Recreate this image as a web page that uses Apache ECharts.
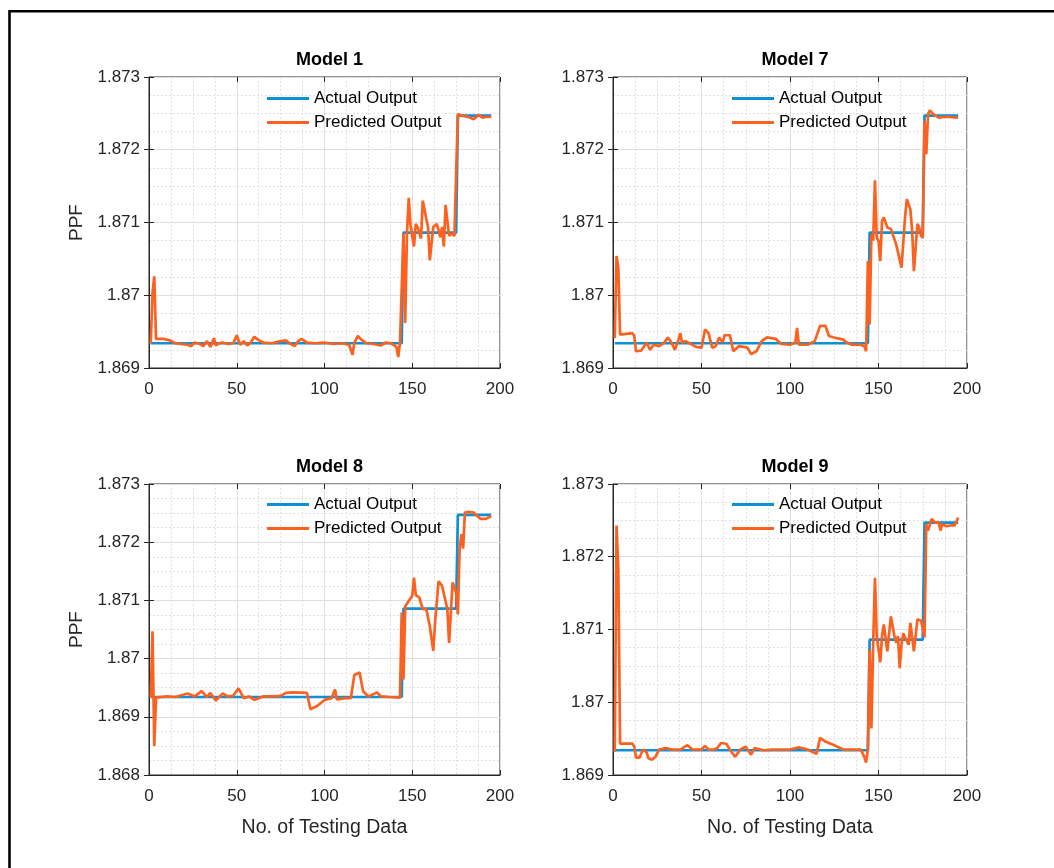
<!DOCTYPE html>
<html>
<head>
<meta charset="utf-8">
<script src="https://cdn.jsdelivr.net/npm/echarts@6/dist/echarts.min.js"></script>
<style>
html,body{margin:0;padding:0;background:#fff;}
#chart{width:1054px;height:868px;}
</style>
</head>
<body>
<div id="chart"></div>
<script>
// ---- data ----
const panelTitles = ['Model 1', 'Model 7', 'Model 8', 'Model 9'];
const seriesNames = ['Actual Output', 'Predicted Output'];
const xTicks = [0, 50, 100, 150, 200];
const yRanges = [[1.869, 1.873], [1.869, 1.873], [1.868, 1.873], [1.869, 1.873]];

const actual = [[1,1.86934],[144,1.86934],[145,1.87086],[175,1.87086],[176,1.87247],[195,1.87247]];

const model1 = [[1,1.86934],[2,1.87003],[3,1.87026],[4,1.8694],[8,1.8694],[12,1.86938],[15,1.86934],[18,1.86933],[22,1.86932],[24,1.8693],[26,1.86935],[29,1.86933],[31,1.8693],[33,1.86937],[35,1.86929],[37,1.86941],[38,1.86931],[40,1.86934],[42,1.86935],[45,1.86933],[48,1.86934],[50,1.86945],[52,1.86932],[54,1.86937],[56,1.86931],[58,1.86935],[60,1.86943],[62,1.86939],[65,1.86935],[70,1.86934],[75,1.86937],[78,1.86938],[80,1.86934],[83,1.8693],[85,1.86937],[87,1.8694],[90,1.86935],[95,1.86934],[100,1.86935],[105,1.86933],[110,1.86934],[114,1.86932],[116,1.86918],[117,1.86935],[119,1.86944],[121,1.86939],[124,1.86934],[128,1.86933],[132,1.86931],[135,1.86935],[138,1.86934],[141,1.86929],[142,1.86915],[143,1.86934],[144,1.86934],[145,1.87085],[146,1.86962],[147,1.87085],[148,1.87134],[149,1.87096],[151,1.87067],[152,1.87098],[153,1.87094],[155,1.87078],[156,1.8713],[158,1.87105],[159,1.87094],[160,1.87048],[162,1.87094],[163,1.87092],[164,1.87098],[166,1.8708],[167,1.87094],[168,1.87067],[169,1.87124],[171,1.87082],[173,1.87085],[174,1.87081],[175,1.87083],[176,1.87249],[177,1.87249],[178,1.87247],[182,1.87245],[185,1.87242],[188,1.87248],[190,1.87244],[192,1.87245],[195,1.87245]];

const model7 = [[1,1.86941],[2,1.87054],[3,1.87038],[4,1.86946],[5,1.86948],[11,1.86948],[12,1.86944],[13,1.86923],[16,1.86924],[19,1.86935],[20,1.86935],[21,1.86925],[23,1.86932],[26,1.8693],[29,1.86935],[31,1.86942],[33,1.86935],[35,1.86925],[37,1.86939],[38,1.86948],[39,1.86935],[41,1.86937],[44,1.86933],[47,1.86929],[50,1.86928],[52,1.86953],[54,1.86948],[56,1.86928],[58,1.8693],[60,1.86942],[62,1.86935],[63,1.86945],[66,1.86945],[68,1.86923],[71,1.8693],[76,1.86928],[78,1.86919],[81,1.86923],[84,1.86937],[87,1.86942],[92,1.8694],[95,1.86933],[100,1.86932],[103,1.86935],[104,1.86955],[105,1.86932],[110,1.86932],[114,1.86937],[117,1.86958],[120,1.86958],[122,1.86944],[125,1.86942],[130,1.86939],[132,1.86935],[135,1.86932],[140,1.86932],[142,1.8693],[143,1.86923],[144,1.87047],[145,1.8696],[146,1.87084],[147,1.87075],[148,1.87158],[149,1.87079],[150,1.87075],[151,1.87047],[152,1.87102],[153,1.87107],[155,1.87093],[157,1.87091],[158,1.87093],[160,1.8707],[163,1.87038],[165,1.87107],[166,1.87132],[168,1.87118],[169,1.87089],[170,1.87033],[172,1.87098],[173,1.87093],[174,1.87082],[175,1.87079],[176,1.8724],[177,1.87194],[178,1.87249],[179,1.87254],[181,1.87249],[184,1.87244],[187,1.87245],[190,1.87245],[195,1.87244]];

const model8 = [[1,1.86933],[2,1.87047],[3,1.8685],[4,1.86933],[10,1.86935],[15,1.86934],[22,1.8694],[26,1.86935],[30,1.86944],[33,1.86934],[35,1.86941],[38,1.86928],[42,1.8694],[45,1.86935],[48,1.86936],[51,1.86949],[54,1.86932],[57,1.86935],[60,1.86929],[65,1.86935],[70,1.86935],[75,1.86936],[78,1.86941],[82,1.86942],[90,1.86941],[92,1.86913],[96,1.86919],[100,1.86929],[104,1.86932],[106,1.86947],[107,1.8693],[112,1.86932],[115,1.86932],[117,1.86972],[120,1.86976],[122,1.86944],[125,1.86935],[130,1.86942],[132,1.86935],[137,1.86934],[143,1.86933],[144,1.87079],[145,1.86964],[146,1.8709],[148,1.87099],[150,1.87108],[151,1.87139],[152,1.87109],[154,1.87105],[156,1.87085],[158,1.87085],[160,1.87056],[162,1.87013],[163,1.87062],[165,1.87133],[167,1.87125],[168,1.87125],[170,1.87085],[171,1.87027],[173,1.87131],[175,1.87113],[176,1.87076],[177,1.87188],[178,1.87214],[179,1.87189],[180,1.87251],[182,1.87252],[185,1.87251],[187,1.87245],[189,1.8724],[192,1.8724],[195,1.87245]];

const model9 = [[1,1.86932],[2,1.87243],[3,1.87183],[4,1.86943],[11,1.86943],[12,1.86939],[13,1.86924],[15,1.86924],[17,1.86935],[19,1.86931],[20,1.86923],[22,1.86921],[24,1.86925],[26,1.86935],[30,1.86937],[33,1.86935],[38,1.86935],[42,1.86941],[45,1.86935],[50,1.86935],[52,1.8694],[54,1.86935],[57,1.86935],[59,1.86937],[61,1.86944],[64,1.86943],[66,1.86935],[69,1.86925],[72,1.86935],[75,1.86939],[78,1.86928],[80,1.86937],[85,1.86934],[90,1.86935],[95,1.86935],[100,1.86935],[105,1.86938],[110,1.86935],[115,1.86929],[117,1.86951],[120,1.86946],[125,1.86941],[130,1.86935],[135,1.86935],[140,1.86935],[142,1.86925],[143,1.86917],[144,1.86935],[145,1.87072],[146,1.86964],[147,1.87082],[148,1.87171],[149,1.87091],[151,1.87055],[152,1.87091],[153,1.87107],[155,1.8707],[156,1.8707],[157,1.87118],[159,1.87091],[160,1.87082],[161,1.87091],[162,1.87047],[163,1.87079],[164,1.87095],[165,1.87089],[167,1.87079],[168,1.87109],[170,1.8707],[172,1.87114],[174,1.87112],[175,1.87102],[176,1.87089],[177,1.87245],[178,1.87236],[180,1.87252],[182,1.87247],[184,1.87247],[185,1.87236],[186,1.87245],[188,1.87242],[191,1.87243],[193,1.87243],[194,1.87248],[195,1.87254]];

const predicted = [model1, model7, model8, model9];

// ---- layout ----
const FONT = '"Liberation Sans", Arial, sans-serif';
const TXT = '#262626';
const BLUE = '#0f8fd6';
const ORANGE = '#fb6220';
const grids = [
  {left:149, top:77, width:351, height:291},
  {left:613, top:77, width:354, height:291},
  {left:149, top:484, width:351, height:291},
  {left:613, top:484, width:354, height:291}
];
const legendPos = [[267, 90], [732, 90], [267, 496], [732, 496]];

function fmtY(v){ return String(parseFloat(v.toFixed(4))); }

const option = {
  backgroundColor: '#fff',
  animation: false,
  title: [], grid: [], xAxis: [], yAxis: [], series: [], legend: [],
  graphic: [{
    type: 'rect', shape: {x: 9.5, y: 11.3, width: 1100, height: 900},
    style: {fill: 'none', stroke: '#000', lineWidth: 2.6}, silent: true, z: -1
  }]
};

grids.forEach((g, i) => {
  const cx = g.left + g.width / 2;
  option.grid.push(Object.assign({show: true, borderColor: TXT, borderWidth: 1, backgroundColor: '#fff', containLabel: false}, g));
  option.title.push({
    text: panelTitles[i], left: cx, top: g.top - 31, textAlign: 'center',
    textStyle: {fontFamily: FONT, fontSize: 18, fontWeight: 'bold', color: '#000'}
  });
  const bottomRow = i >= 2, leftCol = (i % 2) === 0;
  option.xAxis.push({
    type: 'value', gridIndex: i, min: xTicks[0], max: xTicks[xTicks.length - 1], interval: 50,
    name: bottomRow ? 'No. of Testing Data' : '', nameLocation: 'middle', nameGap: 43,
    nameTextStyle: {fontFamily: FONT, fontSize: 19.5, color: TXT},
    axisLine: {show: true, lineStyle: {color: TXT}},
    axisTick: {show: true, inside: true, length: 5, lineStyle: {color: TXT}},
    axisLabel: {fontFamily: FONT, fontSize: 17, color: TXT, margin: 13},
    splitLine: {show: true, lineStyle: {color: '#dedede', width: 1}},
    minorTick: {show: false, splitNumber: 4},
    minorSplitLine: {show: true, lineStyle: {color: '#e2e2e2', type: [2, 2], width: 1}}
  });
  option.xAxis.push({
    type: 'value', gridIndex: i, position: 'top', min: 0, max: 200, interval: 50,
    axisLine: {show: false}, axisLabel: {show: false}, splitLine: {show: false},
    axisTick: {show: true, inside: true, length: 5, lineStyle: {color: TXT}}
  });
  const yr = yRanges[i];
  option.yAxis.push({
    type: 'value', gridIndex: i, min: yr[0], max: yr[1], interval: 0.001,
    name: leftCol ? 'PPF' : '', nameLocation: 'middle', nameGap: 63,
    nameTextStyle: {fontFamily: FONT, fontSize: 19, color: TXT},
    axisLine: {show: true, lineStyle: {color: TXT}},
    axisTick: {show: true, inside: true, length: 5, lineStyle: {color: TXT}},
    axisLabel: {fontFamily: FONT, fontSize: 17, color: TXT, margin: 9, formatter: fmtY},
    splitLine: {show: true, lineStyle: {color: '#dedede', width: 1}},
    minorTick: {show: false, splitNumber: 4},
    minorSplitLine: {show: true, lineStyle: {color: '#e2e2e2', type: [2, 2], width: 1}}
  });
  option.yAxis.push({
    type: 'value', gridIndex: i, position: 'right', min: yr[0], max: yr[1], interval: 0.001,
    axisLine: {show: false}, axisLabel: {show: false}, splitLine: {show: false},
    axisTick: {show: true, inside: true, length: 5, lineStyle: {color: TXT}}
  });
  option.series.push({
    name: seriesNames[0], type: 'line', xAxisIndex: 2 * i, yAxisIndex: 2 * i,
    data: actual, symbol: 'none', z: 3,
    lineStyle: {color: BLUE, width: 2.7}, itemStyle: {color: BLUE}
  });
  option.series.push({
    name: seriesNames[1], type: 'line', xAxisIndex: 2 * i, yAxisIndex: 2 * i,
    data: predicted[i], symbol: 'none', z: 4,
    lineStyle: {color: ORANGE, width: 2.7}, itemStyle: {color: ORANGE}
  });
  option.legend.push({
    data: seriesNames, orient: 'vertical', left: legendPos[i][0], top: legendPos[i][1],
    padding: 0, icon: 'rect', itemWidth: 42, itemHeight: 3, itemGap: 7, selectedMode: false,
    textStyle: {fontFamily: FONT, fontSize: 17, color: '#000'}
  });
});

const chart = echarts.init(document.getElementById('chart'), null, {renderer: 'canvas'});
chart.setOption(option);
</script>
</body>
</html>
